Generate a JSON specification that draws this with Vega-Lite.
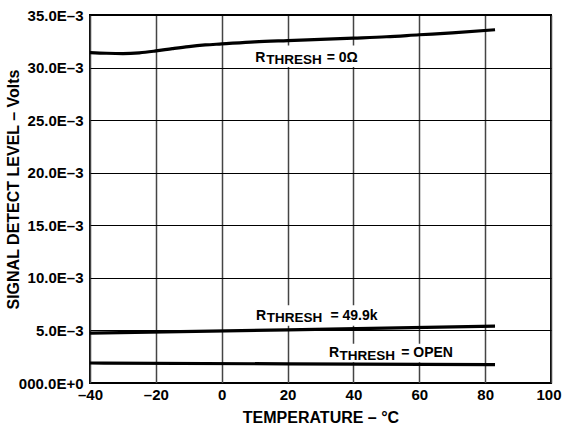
{
  "$schema": "https://vega.github.io/schema/vega-lite/v6.json",
  "width": 461,
  "height": 368,
  "autosize": {"type": "none"},
  "padding": {"left": 90, "top": 15, "right": 11, "bottom": 46},
  "background": "white",
  "config": {
    "view": {"stroke": "black", "strokeWidth": 2},
    "font": "Liberation Sans",
    "axis": {"labelFont": "Liberation Sans", "titleFont": "Liberation Sans", "labelFontWeight": "bold", "titleFontWeight": "bold", "labelColor": "black", "titleColor": "black", "labelFontSize": 15, "titleFontSize": 16, "ticks": false, "domain": false}
  },
  "datasets": {
    "curves": [
      {"series": "0", "temp": -40, "v": 0.03143},
      {"series": "0", "temp": -35, "v": 0.03136},
      {"series": "0", "temp": -30, "v": 0.03133},
      {"series": "0", "temp": -25, "v": 0.0314},
      {"series": "0", "temp": -20, "v": 0.03158},
      {"series": "0", "temp": -15, "v": 0.0318},
      {"series": "0", "temp": -10, "v": 0.032},
      {"series": "0", "temp": -5, "v": 0.03215},
      {"series": "0", "temp": 0, "v": 0.03225},
      {"series": "0", "temp": 10, "v": 0.03245},
      {"series": "0", "temp": 20, "v": 0.03257},
      {"series": "0", "temp": 30, "v": 0.03268},
      {"series": "0", "temp": 40, "v": 0.0328},
      {"series": "0", "temp": 50, "v": 0.03293},
      {"series": "0", "temp": 60, "v": 0.03312},
      {"series": "0", "temp": 70, "v": 0.0333},
      {"series": "0", "temp": 83, "v": 0.0336},
      {"series": "49.9k", "temp": -40, "v": 0.00475},
      {"series": "49.9k", "temp": 20, "v": 0.00505},
      {"series": "49.9k", "temp": 83, "v": 0.0054},
      {"series": "open", "temp": -40, "v": 0.0019},
      {"series": "open", "temp": 20, "v": 0.00182},
      {"series": "open", "temp": 83, "v": 0.00174}
    ],
    "boxes": [
      {"t1": 9.2, "t2": 41.5, "v1": 0.03005, "v2": 0.0321},
      {"t1": 9.5, "t2": 47.8, "v1": 0.00545, "v2": 0.0074},
      {"t1": 31.7, "t2": 71.5, "v1": 0.00198, "v2": 0.00374}
    ],
    "labels": [
      {"part": "big", "temp": 10.15, "v": 0.03057, "text": "R"},
      {"part": "sub", "temp": 13.5, "v": 0.03034, "text": "THRESH"},
      {"part": "big", "temp": 31.9, "v": 0.03057, "text": "= 0Ω"},
      {"part": "big", "temp": 10.45, "v": 0.006, "text": "R"},
      {"part": "sub", "temp": 13.7, "v": 0.00577, "text": "THRESH"},
      {"part": "big", "temp": 33.0, "v": 0.006, "text": "= 49.9k"},
      {"part": "big", "temp": 32.6, "v": 0.00244, "text": "R"},
      {"part": "sub", "temp": 35.8, "v": 0.00222, "text": "THRESH"},
      {"part": "big", "temp": 54.5, "v": 0.00244, "text": "= OPEN"}
    ]
  },
  "encoding": {
    "x": {"type": "quantitative", "scale": {"domain": [-40, 100], "nice": false, "zero": false}},
    "y": {"type": "quantitative", "scale": {"domain": [0, 0.035], "nice": false}}
  },
  "layer": [
    {
      "data": {"name": "curves"},
      "mark": {"type": "point", "opacity": 0},
      "encoding": {
        "x": {"field": "temp", "type": "quantitative", "title": "TEMPERATURE – °C",
          "axis": {"values": [-40, -20, 0, 20, 40, 60, 80, 100], "labelExpr": "datum.value < 0 ? '–' + format(-datum.value, 'd') : format(datum.value, 'd')", "gridColor": "#444", "gridWidth": 1.5, "gridOpacity": 1, "labelPadding": 4, "titlePadding": 7, "labelFlush": false,
            "labelAlign": {"condition": {"test": "datum.value == 100", "value": "right"}, "value": "center"},
            "labelOffset": {"condition": {"test": "datum.value == 100", "value": 10}, "value": 0}}},
        "y": {"field": "v", "type": "quantitative", "title": "SIGNAL DETECT LEVEL – Volts",
          "axis": {"values": [0, 0.005, 0.01, 0.015, 0.02, 0.025, 0.03, 0.035], "labelExpr": "datum.value == 0 ? '000.0E+0' : format(datum.value * 1000, '.1f') + 'E–3'", "gridColor": "#000", "gridWidth": 1, "gridOpacity": 1, "labelPadding": 7, "titleX": -69, "titleY": 174, "titleAngle": -90, "titleAlign": "center", "titleBaseline": "bottom", "labelFlush": false}}
      }
    },
    {
      "data": {"name": "boxes"},
      "mark": {"type": "rect", "fill": "white", "stroke": null},
      "encoding": {
        "x": {"field": "t1", "type": "quantitative"},
        "x2": {"field": "t2"},
        "y": {"field": "v1", "type": "quantitative"},
        "y2": {"field": "v2"}
      }
    },
    {
      "data": {"name": "curves"},
      "mark": {"type": "line", "color": "black", "strokeWidth": 3.2, "interpolate": "monotone"},
      "encoding": {
        "x": {"field": "temp", "type": "quantitative"},
        "y": {"field": "v", "type": "quantitative"},
        "detail": {"field": "series"}
      }
    },
    {
      "data": {"name": "labels"},
      "transform": [{"filter": "datum.part == 'big'"}],
      "mark": {"type": "text", "align": "left", "baseline": "alphabetic", "font": "Liberation Sans", "fontWeight": "bold", "fontSize": 14, "color": "black"},
      "encoding": {
        "x": {"field": "temp", "type": "quantitative"},
        "y": {"field": "v", "type": "quantitative"},
        "text": {"field": "text"}
      }
    },
    {
      "data": {"name": "labels"},
      "transform": [{"filter": "datum.part == 'sub'"}],
      "mark": {"type": "text", "align": "left", "baseline": "alphabetic", "font": "Liberation Sans", "fontWeight": "bold", "fontSize": 13.5, "color": "black"},
      "encoding": {
        "x": {"field": "temp", "type": "quantitative"},
        "y": {"field": "v", "type": "quantitative"},
        "text": {"field": "text"}
      }
    }
  ]
}
